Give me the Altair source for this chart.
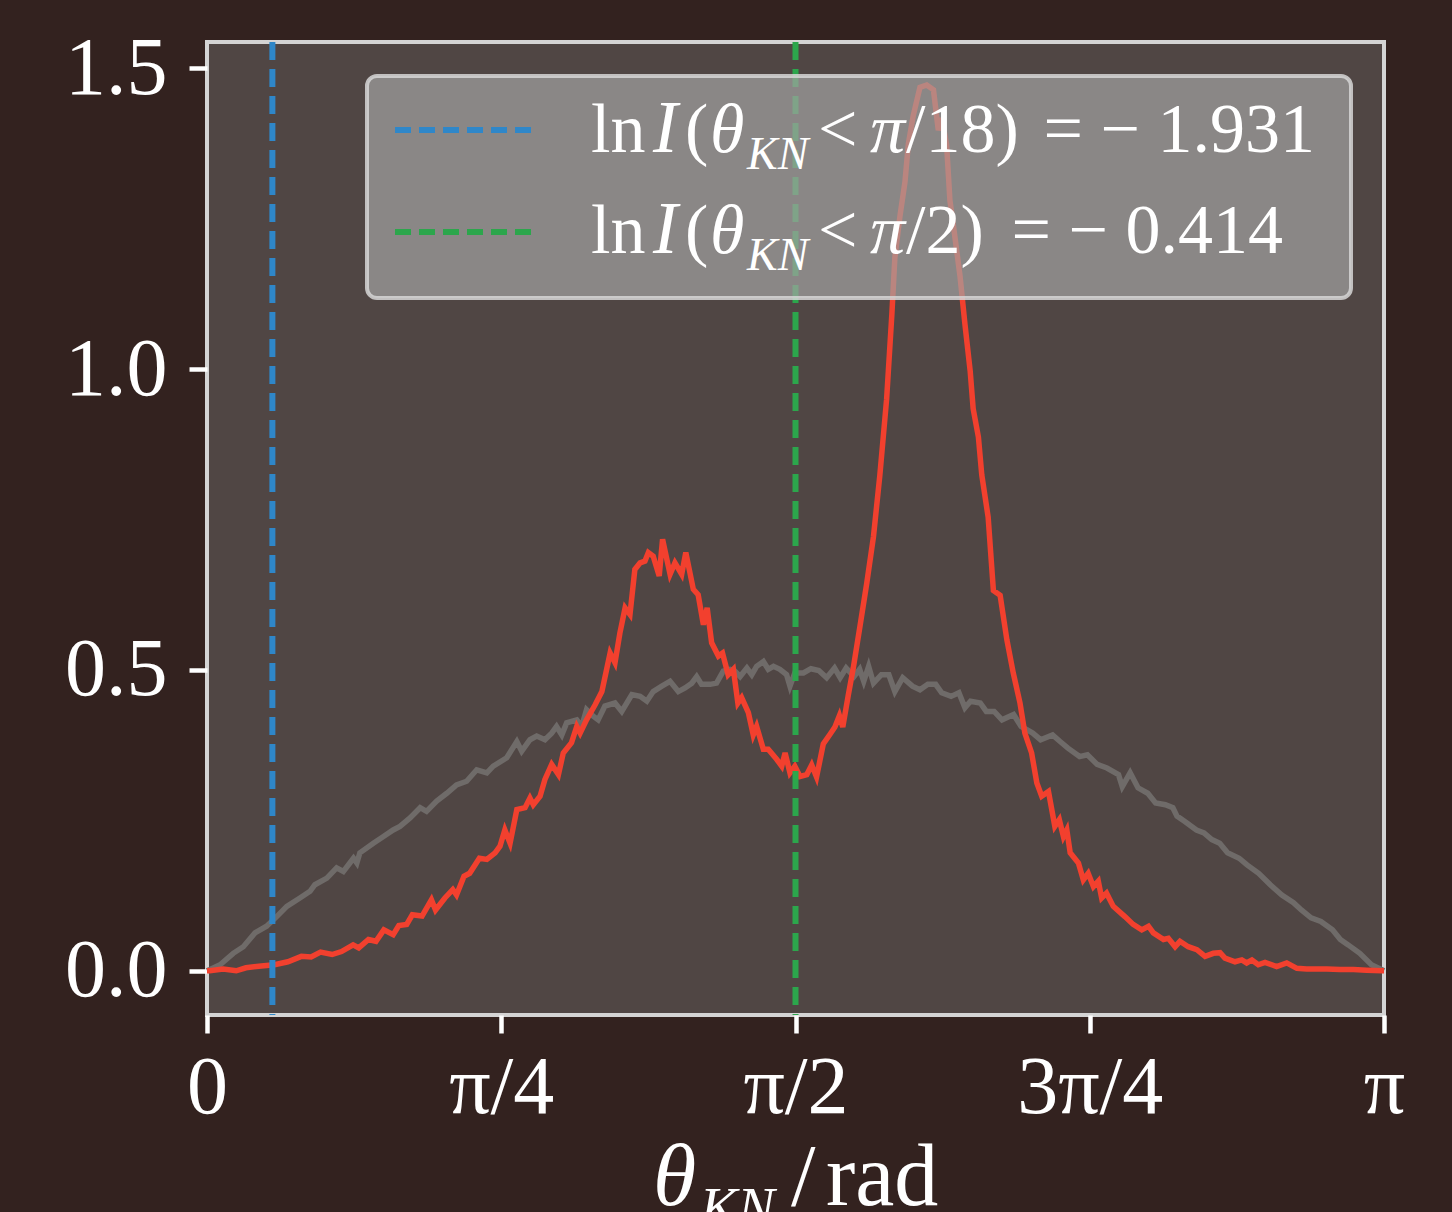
import altair as alt
import numpy as np
import pandas as pd

PI = float(np.pi)

# ---------------- data ----------------
red_theta = [
    0.0, 0.007, 0.043, 0.078, 0.104, 0.145, 0.180, 0.216, 0.252, 0.278,
    0.303, 0.334, 0.359, 0.390, 0.405, 0.431, 0.451, 0.472, 0.497, 0.512,
    0.533, 0.548, 0.574, 0.599, 0.610, 0.635, 0.656, 0.666, 0.686, 0.701, 0.727,
    0.747, 0.769, 0.782, 0.795, 0.809, 0.827, 0.849, 0.862, 0.871, 0.889,
    0.902, 0.920, 0.938, 0.951, 0.973, 0.987, 0.996, 1.013, 1.036, 1.054,
    1.076, 1.089, 1.102, 1.116, 1.129, 1.142, 1.156, 1.169, 1.178, 1.191,
    1.207, 1.216, 1.236, 1.249, 1.267, 1.278, 1.298, 1.311, 1.325, 1.335,
    1.347, 1.365, 1.376, 1.391, 1.405, 1.417, 1.427, 1.445, 1.458, 1.467,
    1.485, 1.498, 1.521, 1.534, 1.543, 1.556, 1.569, 1.583,
    1.601, 1.614, 1.627, 1.645, 1.663, 1.676, 1.688, 1.697, 1.712, 1.725,
    1.743, 1.761, 1.779, 1.796, 1.814, 1.828, 1.836, 1.850, 1.863, 1.872,
    1.885, 1.903, 1.921, 1.939, 1.952, 1.961, 1.974, 1.983, 1.992, 2.010,
    2.023, 2.037, 2.045, 2.059, 2.068, 2.085, 2.099, 2.117,
    2.135, 2.152, 2.170, 2.183, 2.201, 2.215, 2.228, 2.246, 2.263, 2.275,
    2.286, 2.295, 2.304, 2.326, 2.339, 2.352, 2.366, 2.379, 2.388, 2.401,
    2.419, 2.450, 2.472, 2.495, 2.513, 2.526, 2.553, 2.566, 2.584, 2.597,
    2.619, 2.642, 2.664, 2.686, 2.704, 2.717, 2.744, 2.762, 2.775, 2.789,
    2.806, 2.824, 2.855, 2.882, 2.909, 2.935, 2.989, 3.024, 3.060, 3.095,
    3.138, 3.1416,
]
red_value = [
    0.0, 0.0, 0.003, 0.0, 0.005, 0.008, 0.010, 0.015, 0.024, 0.023,
    0.031, 0.027, 0.032, 0.043, 0.038, 0.052, 0.049, 0.068, 0.060, 0.075,
    0.077, 0.093, 0.091, 0.118, 0.101, 0.121, 0.135, 0.126, 0.157, 0.162, 0.187,
    0.185, 0.196, 0.207, 0.234, 0.212, 0.268, 0.271, 0.287, 0.276, 0.290,
    0.318, 0.343, 0.326, 0.362, 0.379, 0.406, 0.395, 0.417, 0.442, 0.464,
    0.528, 0.512, 0.561, 0.603, 0.592, 0.667, 0.678, 0.681, 0.695, 0.689,
    0.656, 0.717, 0.659, 0.678, 0.659, 0.695, 0.634, 0.625, 0.575, 0.603,
    0.545, 0.523, 0.528, 0.492, 0.501, 0.445, 0.454, 0.429, 0.392, 0.406,
    0.368, 0.368, 0.351, 0.340, 0.362, 0.329, 0.340, 0.323,
    0.326, 0.342, 0.322, 0.377, 0.393, 0.405, 0.424, 0.405, 0.459, 0.503,
    0.573, 0.644, 0.722, 0.824, 0.950, 1.091, 1.185, 1.256, 1.311, 1.374,
    1.421, 1.468, 1.472, 1.464, 1.397, 1.417, 1.374, 1.280, 1.240, 1.154,
    1.075, 0.997, 0.934, 0.887, 0.824, 0.754, 0.632, 0.624,
    0.550, 0.495, 0.445, 0.395, 0.362, 0.312, 0.290, 0.298, 0.240, 0.251,
    0.223, 0.234, 0.196, 0.179, 0.151, 0.162, 0.140, 0.149, 0.121, 0.129,
    0.107, 0.090, 0.077, 0.068, 0.074, 0.063, 0.052, 0.054, 0.040, 0.049,
    0.040, 0.035, 0.024, 0.029, 0.030, 0.021, 0.015, 0.018, 0.013, 0.018,
    0.010, 0.014, 0.007, 0.013, 0.004, 0.003, 0.003, 0.002, 0.002, 0.001,
    0.0, 0.0,
]

gray_theta = [
    0.0, 0.008, 0.035, 0.070, 0.097, 0.128, 0.159, 0.186, 0.213, 0.248,
    0.275, 0.288, 0.320, 0.346, 0.364, 0.391, 0.400, 0.408, 0.444, 0.466,
    0.497, 0.515, 0.542, 0.569, 0.586, 0.613, 0.640, 0.666, 0.693, 0.720,
    0.747, 0.764,
    0.800, 0.827, 0.840, 0.862, 0.880, 0.902, 0.920, 0.933, 0.947, 0.960,
    0.987, 1.000, 1.013, 1.031, 1.044, 1.062, 1.089, 1.107, 1.134, 1.156,
    1.174, 1.191, 1.214, 1.236, 1.258, 1.276, 1.294, 1.307, 1.320, 1.343,
    1.360, 1.378, 1.396, 1.409, 1.423, 1.441, 1.454, 1.467, 1.485, 1.498,
    1.512, 1.529, 1.547, 1.556, 1.569,
    1.592, 1.612, 1.633, 1.654, 1.675, 1.690, 1.706, 1.727, 1.742, 1.753,
    1.766, 1.779, 1.800, 1.820, 1.836, 1.857, 1.883, 1.903, 1.924, 1.945,
    1.961, 1.986, 2.007, 2.023, 2.038, 2.064, 2.080, 2.101, 2.122, 2.153,
    2.173, 2.204, 2.225, 2.257, 2.277, 2.298, 2.329, 2.350, 2.376, 2.402,
    2.433, 2.443, 2.464, 2.485, 2.511, 2.532, 2.558, 2.578, 2.589, 2.610,
    2.641, 2.661, 2.682, 2.703, 2.724, 2.755, 2.776, 2.807, 2.838, 2.869,
    2.900, 2.921, 2.947, 2.973, 3.004, 3.025, 3.046, 3.077, 3.108, 3.1416,
]
gray_value = [
    0.0, 0.002, 0.010, 0.029, 0.040, 0.063, 0.074, 0.090, 0.107, 0.121,
    0.132, 0.143, 0.154, 0.171, 0.165, 0.187, 0.179, 0.196, 0.212, 0.221,
    0.234, 0.240, 0.254, 0.271, 0.265, 0.282, 0.295, 0.309, 0.315, 0.334,
    0.329, 0.340,
    0.354, 0.381, 0.365, 0.384, 0.390, 0.384, 0.395, 0.406, 0.392, 0.412,
    0.417, 0.406, 0.434, 0.423, 0.417, 0.440, 0.445, 0.431, 0.459, 0.456,
    0.448, 0.464, 0.473, 0.481, 0.464, 0.470, 0.478, 0.489, 0.476, 0.476,
    0.478, 0.498, 0.501, 0.498, 0.489, 0.503, 0.492, 0.506, 0.514, 0.501,
    0.506, 0.501, 0.492, 0.473, 0.495,
    0.495, 0.502, 0.499, 0.487, 0.503, 0.487, 0.503, 0.489, 0.501, 0.481,
    0.506, 0.478, 0.492, 0.492, 0.464, 0.487, 0.473, 0.467, 0.476, 0.476,
    0.462, 0.456, 0.462, 0.437, 0.448, 0.445, 0.431, 0.431, 0.417, 0.426,
    0.406, 0.395, 0.384, 0.392, 0.381, 0.370, 0.356, 0.359, 0.343, 0.337,
    0.326, 0.306, 0.329, 0.304, 0.295, 0.279, 0.276, 0.271, 0.257, 0.248,
    0.234, 0.229, 0.218, 0.212, 0.196, 0.187, 0.176, 0.162, 0.143, 0.126,
    0.113, 0.101, 0.088, 0.082, 0.068, 0.052, 0.043, 0.029, 0.010, 0.0,
]

cut_theta = [PI / 18, PI / 2]
cut_colors = ["#2f87c9", "#2ca64c"]
x_tick_values = [0, PI / 4, PI / 2, 3 * PI / 4, PI]
x_tick_labels = ["0", "π/4", "π/2", "3π/4", "π"]
y_tick_values = [0.0, 0.5, 1.0, 1.5]
legend_bounds = ["/18)", "/2)"]
legend_values = ["= − 1.931", "= − 0.414"]

# ---------------- styling ----------------
W, H = 1177, 973
FONT = "'Liberation Serif', 'DejaVu Serif', serif"
BG = "#33221f"
PLOT_BG = "#504644"

red_df = pd.DataFrame({"theta": red_theta, "value": red_value})
gray_df = pd.DataFrame({"theta": gray_theta, "value": gray_value})
cut_df = pd.DataFrame({"theta": cut_theta, "color": cut_colors})
one = pd.DataFrame({"k": [0]})

label_expr = " : ".join(
    [f"abs(datum.value - {v}) < 0.01 ? '{t}'" for v, t in zip(x_tick_values[:-1], x_tick_labels[:-1])]
) + f" : '{x_tick_labels[-1]}'"

x_scale = alt.Scale(domain=[0, PI], nice=False, zero=False)
y_scale = alt.Scale(domain=[-0.0735, 1.5435], nice=False, zero=False)
x_axis = alt.Axis(values=x_tick_values, labelExpr=label_expr, title=None,
                  labelPadding=14, labelBaseline="top")
y_axis = alt.Axis(values=y_tick_values, format=".1f", title=None, labelPadding=22)

X = alt.X("theta:Q", scale=x_scale, axis=x_axis)
Y = alt.Y("value:Q", scale=y_scale, axis=y_axis)

gray = alt.Chart(gray_df).mark_line(color="#6f6b69", strokeWidth=5.5).encode(x=X, y=Y)
red = alt.Chart(red_df).mark_line(color="#f2402e", strokeWidth=5.5).encode(x=X, y=Y)
vlines = alt.Chart(cut_df).mark_rule(strokeDash=[18, 9], strokeWidth=6).encode(
    x=X, color=alt.Color("color:N", scale=None)
)

# legend box
box = alt.Chart(one).mark_rect(
    fill="#a3a3a3", fillOpacity=0.7, stroke="#d6d6d6", strokeOpacity=0.85,
    strokeWidth=4, cornerRadius=10
).encode(x=alt.value(160), x2=alt.value(1144), y=alt.value(34), y2=alt.value(256))


def handle(color, y):
    return alt.Chart(one).mark_rule(color=color, strokeDash=[16, 8], strokeWidth=6).encode(
        x=alt.value(188), x2=alt.value(326), y=alt.value(y)
    )


def txt(text, x, y, size, style="normal", align="left"):
    return alt.Chart(one).mark_text(
        text=text, font=FONT, fontSize=size, fontStyle=style, align=align,
        baseline="alphabetic", color="white"
    ).encode(x=alt.value(x), y=alt.value(y))


legend_layers = [box]
for i, (col, bnd, val) in enumerate(zip(cut_colors, legend_bounds, legend_values)):
    base = 110 + 101 * i
    legend_layers += [
        handle(col, 88 + 102 * i),
        txt("ln", 384, base, 70),
        txt("I", 446, base, 74, style="italic"),
        txt("(", 478, base, 70),
        txt("θ", 503, base, 70, style="italic"),
        txt("KN", 540, base + 17, 46, style="italic"),
        txt("<", 611, base, 70),
        txt("π", 663, base, 70, style="italic"),
        txt(bnd, 699, base, 70),
        txt(val, 1108 - 32 * i, base, 70, align="right"),
    ]

title_layers = [
    txt("θ", 446, 1163, 88, style="italic"),
    txt("KN", 493, 1185, 56, style="italic"),
    txt("/", 584, 1163, 88),
    txt("rad", 619, 1163, 88),
]

chart = alt.layer(
    gray, red, vlines, *legend_layers, *title_layers
).properties(
    width=W, height=H,
    padding={"left": 207, "top": 42, "right": 68, "bottom": 197},
    autosize=alt.AutoSizeParams(type="none"),
    background=BG,
).configure_view(
    fill=PLOT_BG, stroke="#d4d4d4", strokeWidth=4
).configure_axis(
    labelFont=FONT, labelFontSize=82, labelColor="white",
    tickColor="white", tickSize=18, tickWidth=4.5,
    domain=False, grid=False, labelFlush=False, labelOverlap=False,
)

chart.save("out.html", embed_options={"renderer": "svg", "actions": False})
